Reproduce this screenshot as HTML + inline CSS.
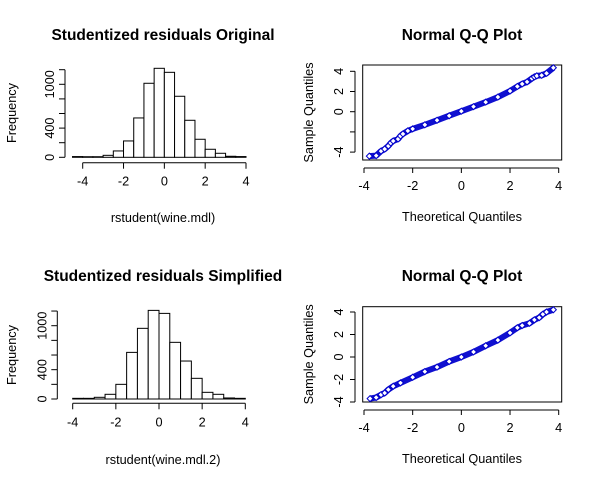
<!DOCTYPE html>
<html><head><meta charset="utf-8"><style>
body{margin:0;background:#fff}
svg{display:block;font-family:"Liberation Sans",Arial,sans-serif}
</style></head><body>
<svg id="c" width="595" height="484" viewBox="0 0 595 484"></svg>
<script>
// Histogram 1 (rstudent(wine.mdl)) bins start -4.5, width 0.5
const h1Start = -4.5;
const h1Counts = [10, 8, 8, 27, 87, 224, 539, 1014, 1219, 1164, 836, 507, 247, 110, 55, 14, 10];
// Histogram 2 (rstudent(wine.mdl.2)) bins start -4, width 0.5
const h2Start = -4;
const h2Counts = [9, 9, 23, 64, 200, 636, 964, 1209, 1168, 773, 518, 282, 91, 64, 14, 9];
const histXTicks = [-4, -2, 0, 2, 4];
const histYTicks = [0, 200, 400, 600, 800, 1000, 1200];
const histYLabels = ["0", "", "400", "", "", "1000", ""];
// QQ plot 1
const qq1Theo = [-3.78,-3.5,-3.3,-3.15,-3.0,-2.9,-2.8,-2.6,-2.5,-2.4,-2.2,-2.0,-1.5,-1.0,-0.5,0,0.5,1.0,1.5,2.0,2.3,2.5,2.7,2.9,3.0,3.1,3.3,3.5,3.78];
const qq1Samp = [-4.4,-4.35,-3.9,-3.7,-3.4,-3.1,-2.9,-2.7,-2.4,-2.2,-1.9,-1.7,-1.3,-0.85,-0.4,0.05,0.5,0.95,1.45,2.05,2.5,2.75,2.95,3.3,3.45,3.55,3.6,3.8,4.35];
const qq1YTicks = [-4, -2, 0, 2, 4];
const qq1YLabels = ["-4", "", "0", "2", "4"];
// QQ plot 2
const qq2Theo = [-3.75,-3.5,-3.3,-3.15,-3.0,-2.8,-2.5,-2.0,-1.5,-1.0,-0.5,0,0.5,1.0,1.5,2.0,2.3,2.5,2.8,3.0,3.2,3.35,3.5,3.78];
const qq2Samp = [-3.7,-3.6,-3.35,-3.2,-2.9,-2.6,-2.3,-1.8,-1.3,-0.9,-0.4,0.0,0.45,1.0,1.5,2.15,2.6,2.8,3.0,3.3,3.5,3.8,4.0,4.2];
const qq2YTicks = [-4, -2, 0, 2, 4];
const qq2YLabels = ["-4", "-2", "0", "2", "4"];
const qqXTicks = [-4, -2, 0, 2, 4];

const NS = "http://www.w3.org/2000/svg";
const svg = document.getElementById("c");
function mk(tag, attrs, parent, name) {
  const e = document.createElementNS(NS, tag);
  for (const k in attrs) e.setAttribute(k, attrs[k]);
  
  
  (parent || svg).appendChild(e);
  return e;
}
function txt(x, y, s, size, opts, parent, name) {
  const a = Object.assign({x: x, y: y, "font-size": size, "text-anchor": "middle", fill: "#000"}, opts || {});
  const t = mk("text", a, parent, name);
  t.textContent = s;
  return t;
}

function histogram(cfg) {
  const g = mk("g", {}, svg, cfg.name);
  const sx = v => cfg.x0 + (v - cfg.xmin) * (cfg.x1 - cfg.x0) / (cfg.xmax - cfg.xmin);
  const sy = v => cfg.y0 + (v) * (cfg.y1000 - cfg.y0) / 1000;
  cfg.counts.forEach((c, i) => {
    const a = cfg.start + i * 0.5, b = a + 0.5;
    mk("rect", {x: sx(a), y: sy(c), width: sx(b) - sx(a), height: sy(0) - sy(c), fill: "#fff", stroke: "#000", "stroke-width": 1}, g, "histogram-bar");
  });
  mk("line", {x1: sx(histXTicks[0]), x2: sx(histXTicks[histXTicks.length - 1]), y1: cfg.axY, y2: cfg.axY, stroke: "#000"}, g, "x-axis-line");
  histXTicks.forEach(t => {
    mk("line", {x1: sx(t), x2: sx(t), y1: cfg.axY, y2: cfg.axY + 6, stroke: "#000"}, g, "x-tick");
    txt(sx(t), cfg.axY + 23, String(t), 12.7, {}, g, "x-tick-label");
  });
  mk("line", {x1: cfg.axX, x2: cfg.axX, y1: sy(0), y2: sy(1200), stroke: "#000"}, g, "y-axis-line");
  histYTicks.forEach((t, i) => {
    mk("line", {x1: cfg.axX - 6, x2: cfg.axX, y1: sy(t), y2: sy(t), stroke: "#000"}, g, "y-tick");
    if (histYLabels[i]) txt(0, 0, histYLabels[i], 12.7, {transform: `translate(${cfg.axX - 11},${sy(t)}) rotate(-90)`}, g, "y-tick-label");
  });
  txt(163, cfg.titleY, cfg.title, 15.5, {"font-weight": "bold"}, g, "chart-title");
  txt(163, cfg.xlabY, cfg.xlab, 12.7, {}, g, "x-axis-title");
  txt(0, 0, "Frequency", 12.7, {transform: `translate(16,${cfg.ylabY}) rotate(-90)`}, g, "y-axis-title");
}

function qq(cfg) {
  const g = mk("g", {}, svg, cfg.name);
  const sx = v => 364 + (v + 4) * (558.7 - 364) / 8;
  const sy = v => cfg.yZero - v * cfg.yScale;
  mk("rect", {x: 362.7, y: cfg.boxT, width: 199, height: cfg.boxB - cfg.boxT, fill: "none", stroke: "#000"}, g, "plot-box");
  let d = "";
  cfg.theo.forEach((t, i) => { d += (i ? "L" : "M") + sx(t).toFixed(1) + "," + sy(cfg.samp[i]).toFixed(1); });
  mk("path", {d: d, fill: "none", stroke: "#1010d0", "stroke-width": 6, "stroke-linejoin": "round"}, g, "qq-points-band");
  cfg.theo.forEach((t, i) => {
    const x = sx(t), y = sy(cfg.samp[i]);
    mk("path", {d: `M${x},${y - 3}L${x + 3},${y}L${x},${y + 3}L${x - 3},${y}Z`, fill: "#fff", stroke: "#0000cc", "stroke-width": 1}, g, "qq-point");
  });
  mk("line", {x1: sx(-4), x2: sx(4), y1: cfg.boxB + 8, y2: cfg.boxB + 8, stroke: "#000"}, g, "x-axis-line");
  qqXTicks.forEach(t => {
    mk("line", {x1: sx(t), x2: sx(t), y1: cfg.boxB + 8, y2: cfg.boxB + 13, stroke: "#000"}, g, "x-tick");
    txt(sx(t), cfg.boxB + 30, String(t), 12.7, {}, g, "x-tick-label");
  });
  mk("line", {x1: 355, x2: 355, y1: sy(-4), y2: sy(4), stroke: "#000"}, g, "y-axis-line");
  cfg.yTicks.forEach((t, i) => {
    mk("line", {x1: 350, x2: 355, y1: sy(t), y2: sy(t), stroke: "#000"}, g, "y-tick");
    if (cfg.yLabels[i]) txt(0, 0, cfg.yLabels[i], 12.7, {transform: `translate(343,${sy(t)}) rotate(-90)`}, g, "y-tick-label");
  });
  txt(462, cfg.titleY, "Normal Q-Q Plot", 15.5, {"font-weight": "bold"}, g, "chart-title");
  txt(462, cfg.boxB + 61, "Theoretical Quantiles", 12.7, {}, g, "x-axis-title");
  txt(0, 0, "Sample Quantiles", 12.7, {transform: `translate(313,${(cfg.boxT + cfg.boxB) / 2}) rotate(-90)`}, g, "y-axis-title");
}

histogram({name: "histogram-original", start: h1Start, counts: h1Counts, xmin: -4, xmax: 4, x0: 82.7, x1: 246,
  y0: 157.3, y1000: 84.3, axY: 162.7, axX: 65, title: "Studentized residuals Original", titleY: 40,
  xlab: "rstudent(wine.mdl)", xlabY: 222, ylabY: 113});
histogram({name: "histogram-simplified", start: h2Start, counts: h2Counts, xmin: -4, xmax: 4, x0: 72.7, x1: 245.3,
  y0: 399, y1000: 325.7, axY: 403.3, axX: 57.3, title: "Studentized residuals Simplified", titleY: 281,
  xlab: "rstudent(wine.mdl.2)", xlabY: 464, ylabY: 355});
qq({name: "qq-plot-original", theo: qq1Theo, samp: qq1Samp, yTicks: qq1YTicks, yLabels: qq1YLabels,
  boxT: 65, boxB: 160, yZero: 111.7, yScale: 10.1, titleY: 40});
qq({name: "qq-plot-simplified", theo: qq2Theo, samp: qq2Samp, yTicks: qq2YTicks, yLabels: qq2YLabels,
  boxT: 306.7, boxB: 402, yZero: 357, yScale: 11.25, titleY: 281});
</script>
</body></html>
